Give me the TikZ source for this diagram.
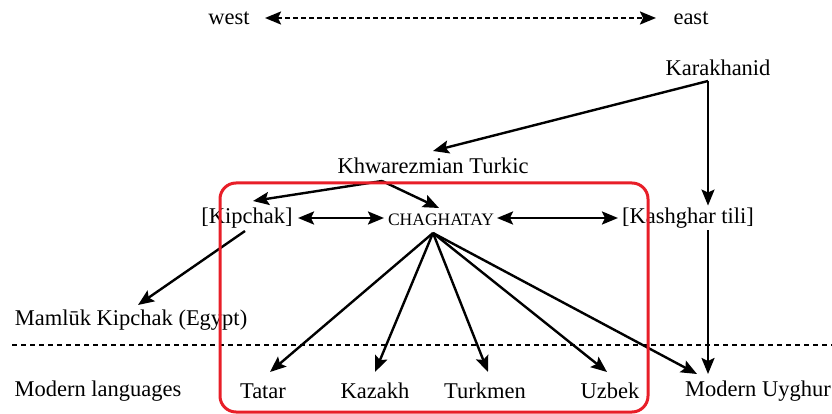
\documentclass[tikz,border=0pt]{standalone}
\usepackage{fontspec}
\setmainfont{Liberation Serif}
\usetikzlibrary{arrows.meta}
\begin{document}
\begin{tikzpicture}[x=1pt,y=-1pt,
  lbl/.style={font=\fontsize{22.5}{26}\selectfont, inner sep=2pt},
  caps/.style={font=\fontsize{17.5}{20}\selectfont, inner sep=2pt},
  hd/.tip={Stealth[length=16pt,width=13pt,inset=3pt]},
  arr/.style={line width=2.4pt, -hd},
  darr/.style={line width=2.4pt, hd-hd},
  topline/.style={line width=2.2pt, dash pattern=on 5pt off 3pt, hd-hd},
  sepline/.style={line width=2.6pt, dash pattern=on 5pt off 4pt},
  redbox/.style={draw={rgb,255:red,232;green,30;blue,40}, line width=3pt, rounded corners=16pt}]
\useasboundingbox (0,0) rectangle (832,414);

\node[lbl] (west) at (229,18) {west};
\node[lbl] (east) at (691,18) {east};
\node[lbl] (kar) at (718,68) {Karakhanid};
\node[lbl] (khw) at (433,166) {Khwarezmian Turkic};
\node[lbl] (kip) at (247,218) {[Kipchak]};
\node[caps] (chag) at (441,220) {CHAGHATAY};
\node[lbl] (kash) at (688,218) {[Kashghar tili]};
\node[lbl] (mam) at (131,320) {Maml\=uk Kipchak (Egypt)};
\node[lbl] (modl) at (98,391) {Modern languages};
\node[lbl] (tat) at (263,391) {Tatar};
\node[lbl] (kaz) at (375,391) {Kazakh};
\node[lbl] (tkm) at (485,391) {Turkmen};
\node[lbl] (uzb) at (610,391) {Uzbek};
\node[lbl] (uyg) at (758,391) {Modern Uyghur};

\coordinate (karS) at (708,81);
\coordinate (khwS) at (382,181);
\coordinate (chagS) at (433,233);
\coordinate (dl1) at (12,345);
\coordinate (dl2) at (832,345);

\draw[topline] (265,18) -- (656,18);

\draw[arr] (karS) -- (433,151);
\draw[arr] (karS) -- (karS |- kash.north);
\draw[arr] (khwS) -- (253,201);
\draw[arr] (khwS) -- (439,208);
\draw[darr] (298,218) -- (384,218);
\draw[darr] (497,218) -- (618,218);
\draw[arr] (245,231) -- (138,305);

\draw[arr] (chagS) -- (270,372);
\draw[arr] (chagS) -- (375,372);
\draw[arr] (chagS) -- (488,372);
\draw[arr] (chagS) -- (607,372);
\draw[arr] (chagS) -- (697,374);
\draw[arr] (karS |- kash.south) -- (708,374);

\draw[sepline] (dl1) -- (dl2);

\draw[redbox] (220,183) rectangle (648,412);
\end{tikzpicture}
\end{document}
